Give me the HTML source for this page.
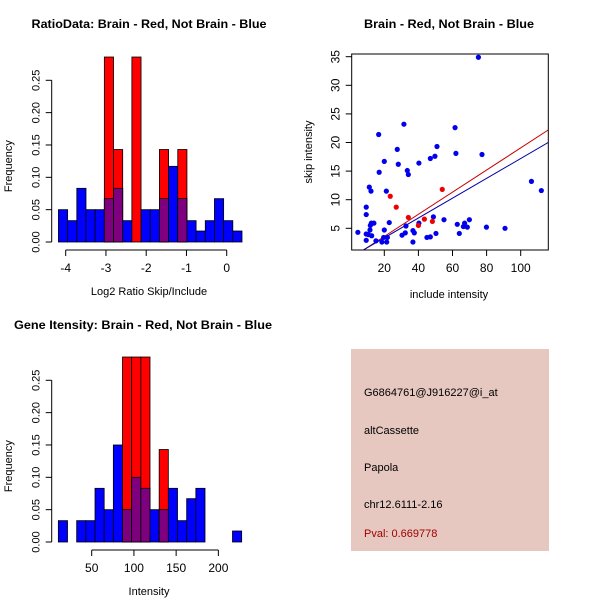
<!DOCTYPE html>
<html><head><meta charset="utf-8"><style>
body{margin:0;background:#fff}
svg{display:block;font-family:"Liberation Sans",sans-serif}
</style></head><body>
<svg id="s" width="600" height="600" xmlns="http://www.w3.org/2000/svg">
<rect width="600" height="600" fill="#fff"/>
<g id="g1"></g>
<g id="g2"></g>
<g id="g3"></g>
<g>
<rect x="351" y="349" width="198" height="202" fill="#e6c8c0"/>
<text x="364" y="396" font-size="11">G6864761@J916227@i_at</text>
<text x="364" y="434" font-size="11">altCassette</text>
<text x="364" y="471" font-size="11">Papola</text>
<text x="364" y="508" font-size="11">chr12.6111-2.16</text>
<text x="364" y="537" font-size="11" fill="#a00000">Pval: 0.669778</text>
</g>
</svg>
<script>
// ---- data ----
const ratioBlue=[0.05,0.033,0.083,0.05,0.05,0.067,0.083,0.033,0,0.05,0.05,0.067,0.117,0.067,0.033,0.017,0.033,0.067,0.033,0.017];
const ratioRed=[0,0,0,0,0,0.286,0.143,0,0.286,0,0,0.143,0,0.143,0,0,0,0,0,0];
const ratioTicks=[-4,-3,-2,-1,0];
const intBlue=[0.033,0,0.033,0.033,0.083,0.05,0.15,0.05,0.1,0.083,0.05,0.05,0.083,0.033,0.067,0.083,0,0,0,0.017];
const intRed=[0,0,0,0,0,0,0,0.286,0.286,0.286,0,0.143,0,0,0,0,0,0,0,0];
const intTicks=[50,100,150,200];
const freqTicks=[0,0.05,0.10,0.15,0.20,0.25];
const blueX=[75.2,31.5,61.5,16.7,27.6,50.9,20,28.2,47,49.7,62,77.3,17,33.5,34.1,40.3,11.2,12.2,21.2,9.4,9.4,106.3,112.1,4.5,9.4,9.4,10.6,11.8,12.4,13.9,11.6,12.6,15.1,20,22.9,18.6,21.4,21.8,19.6,30.4,32.3,32.7,36.8,37.6,36.8,40.3,45,47,48.8,50.3,55,62.8,64,66.4,67.1,68.7,69.9,79.9,90.8];
const blueY=[34.9,23.2,22.6,21.4,18.8,19.3,16.7,16.2,17.2,17.6,18.1,17.9,14.8,15.1,14.4,16.4,12.2,11.5,11.5,8.7,7.4,13.2,11.6,4.3,4,2.9,3.9,5.5,5.9,5.9,4.7,3.7,2.8,4.7,6,2.6,2.6,3.4,3.4,3.8,4.2,5.4,4.6,4.2,2.6,5.9,3.4,3.5,7,4.1,6.5,5.7,4.1,5.3,5.9,5.2,6.5,5.2,5];
const redX=[23.5,27,34.1,40,43.5,48.2,54];
const redY=[10.6,8.7,6.9,5.5,6.6,6.2,11.8];
const fitRed=[-0.29,0.1935];
const fitBlue=[-0.13,0.1733];
const scatXTicks=[20,40,60,80,100];
const scatYTicks=[5,10,15,20,25,30,35];

const NS="http://www.w3.org/2000/svg";
function mk(p,tag,a,txt){const e=document.createElementNS(NS,tag);for(const k in a)e.setAttribute(k,a[k]);if(txt!==undefined)e.textContent=txt;p.appendChild(e);return e;}

function hist(g,o){
  const sy=v=>o.y0-(v/0.25)*(o.y0-o.y25);
  const sx=v=>o.xa+(v-o.va)*o.ppu;
  const bw=(o.binEnd-o.binStart)/o.blue.length;
  o.blue.forEach((b,i)=>{
    const x0=sx(o.binStart+i*bw),x1=sx(o.binStart+(i+1)*bw);
    const r=o.red[i];
    if(b>0){const e=mk(g,'rect',{x:x0,y:sy(b),width:x1-x0,height:sy(0)-sy(b),fill:'#0000ff',stroke:'#000','stroke-width':0.8});
      }
    if(r>0){const e=mk(g,'rect',{x:x0,y:sy(r),width:x1-x0,height:sy(0)-sy(r),fill:'#ff0000',stroke:'#000','stroke-width':0.8});
      }
    if(r>0&&b>0){const m=Math.min(r,b);const e=mk(g,'rect',{x:x0,y:sy(m),width:x1-x0,height:sy(0)-sy(m),fill:'#7f007f',stroke:'#000','stroke-width':0.8});
      }
  });
  // y axis
  const ax=o.yAxisX;
  mk(g,'line',{x1:ax,x2:ax,y1:sy(0),y2:sy(0.25),stroke:'#000'});
  freqTicks.forEach(t=>{const y=sy(t);mk(g,'line',{x1:ax-6,x2:ax,y1:y,y2:y,stroke:'#000'});
    const e=mk(g,'text',{x:ax-12,y:y,'font-size':11,'text-anchor':'middle',transform:`rotate(-90 ${ax-12} ${y})`},t.toFixed(2));
    });
  // x axis
  const ay=o.xAxisY;
  mk(g,'line',{x1:sx(o.ticks[0]),x2:sx(o.ticks[o.ticks.length-1]),y1:ay,y2:ay,stroke:'#000'});
  o.ticks.forEach(t=>{const x=sx(t);mk(g,'line',{x1:x,x2:x,y1:ay,y2:ay+6,stroke:'#000'});
    const e=mk(g,'text',{x:x,y:ay+22,'font-size':12,'text-anchor':'middle'},String(t));
    });
  let e=mk(g,'text',{x:o.tx,y:o.ty,'font-size':12,'font-weight':'bold','text-anchor':'middle',textLength:o.tl,lengthAdjust:'spacingAndGlyphs'},o.title);
  
  e=mk(g,'text',{x:o.xlx,y:ay+45,'font-size':11,'text-anchor':'middle'},o.xlabel);
  
  const cy=(sy(0)+sy(0.25))/2+5;
  e=mk(g,'text',{x:12,y:cy,'font-size':11,'text-anchor':'middle',transform:`rotate(-90 12 ${cy})`},'Frequency');
  
}
hist(document.getElementById('g1'),{blue:ratioBlue,red:ratioRed,ticks:ratioTicks,y0:242,y25:80.3,xa:65.7,va:-4,ppu:40.25,binStart:-4.18,binEnd:0.38,yAxisX:51.7,xAxisY:250,title:'RatioData: Brain - Red, Not Brain - Blue',tx:149,ty:28,tl:235,xlabel:'Log2 Ratio Skip/Include',xlx:149});
hist(document.getElementById('g3'),{blue:intBlue,red:intRed,ticks:intTicks,y0:542,y25:380.3,xa:91.7,va:50,ppu:0.8444,binStart:10.5,binEnd:227.6,yAxisX:51.7,xAxisY:550,title:'Gene Itensity: Brain - Red, Not Brain - Blue',tx:143,ty:329,tl:258,xlabel:'Intensity',xlx:149});

// scatter
(function(){
  const g=document.getElementById('g2');
  const L=351.7,R=548.3,T=54,B=250;
  const sx=v=>384.3+(v-20)*1.705;
  const sy=v=>228.3-(v-5)*5.72;
  mk(g,'defs',{}).innerHTML='<clipPath id="cp"><rect x="'+L+'" y="'+T+'" width="'+(R-L)+'" height="'+(B-T)+'"/></clipPath>';
  [[fitRed,'#cc0000','fit-line-red'],[fitBlue,'#0000aa','fit-line-blue']].forEach(([f,c,n])=>{
    const x0=(( (B-228.3)/-5.72+5)-f[0])/f[1]; // x where line hits bottom
    const xa=Math.max(x0,0),xb=130;
    const e=mk(g,'line',{x1:sx(xa),y1:sy(f[0]+f[1]*xa),x2:sx(xb),y2:sy(f[0]+f[1]*xb),stroke:c,'stroke-width':1,'clip-path':'url(#cp)'});
    
  });
  blueX.forEach((x,i)=>{const e=mk(g,'circle',{cx:sx(x),cy:sy(blueY[i]),r:2.6,fill:'#0000ee'});
    });
  redX.forEach((x,i)=>{const e=mk(g,'circle',{cx:sx(x),cy:sy(redY[i]),r:2.6,fill:'#ee0000'});
    });
  mk(g,'rect',{x:L,y:T,width:R-L,height:B-T,fill:'none',stroke:'#000'});
  scatXTicks.forEach(t=>{const x=sx(t);mk(g,'line',{x1:x,x2:x,y1:B,y2:B+6,stroke:'#000'});
    const e=mk(g,'text',{x:x,y:B+22,'font-size':12,'text-anchor':'middle'},String(t));
    });
  scatYTicks.forEach(t=>{const y=sy(t);mk(g,'line',{x1:L-6,x2:L,y1:y,y2:y,stroke:'#000'});
    const e=mk(g,'text',{x:L-12,y:y,'font-size':12,'text-anchor':'middle',transform:`rotate(-90 ${L-12} ${y})`},String(t));
    });
  let e=mk(g,'text',{x:449,y:28,'font-size':12,'font-weight':'bold','text-anchor':'middle',textLength:170,lengthAdjust:'spacingAndGlyphs'},'Brain - Red, Not Brain - Blue');
  
  e=mk(g,'text',{x:449,y:298,'font-size':11,'text-anchor':'middle'},'include intensity');
  
  e=mk(g,'text',{x:312,y:152,'font-size':11,'text-anchor':'middle',transform:'rotate(-90 312 152)'},'skip intensity');
  
})();
</script>
</body></html>
